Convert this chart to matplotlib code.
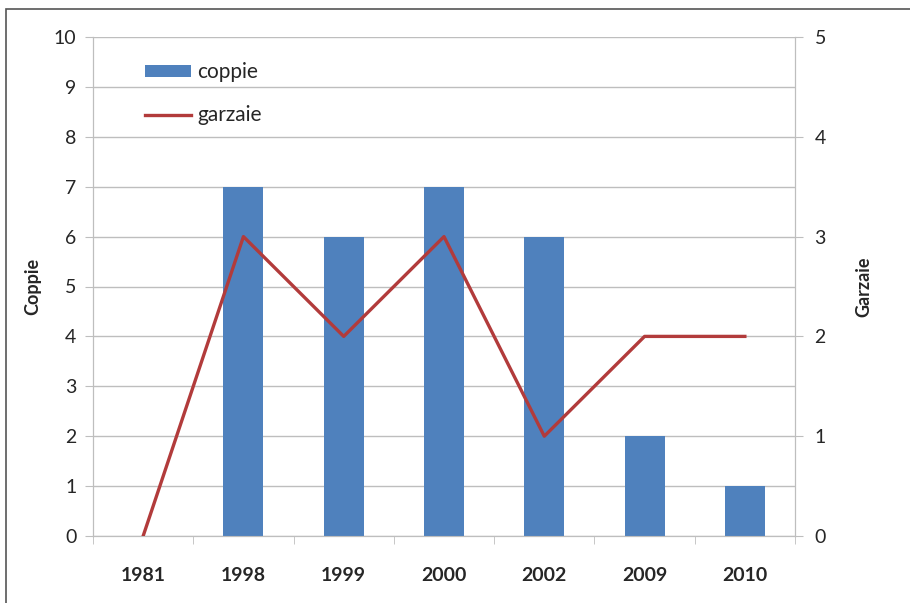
import numpy as np
import matplotlib.pyplot as plt
import matplotlib.patches as patches

plt.rcParams['font.family'] = ['Lato', 'DejaVu Sans']

years = ['1981', '1998', '1999', '2000', '2002', '2009', '2010']
coppie = [0, 7, 6, 7, 6, 2, 1]
garzaie = [0, 3, 2, 3, 1, 2, 2]

bar_color = '#4F81BD'
line_color = '#B23B3B'
grid_color = '#BEBEBE'
text_color = '#262626'

fig = plt.figure(figsize=(9.10, 6.03), dpi=100)
ax = fig.add_axes([93/910, 1 - 536/603, (795 - 93)/910, (536 - 37)/603])

# outer frame of the chart
frame = patches.Rectangle((6/910, -0.05), 1.05, 1 - 9/603 + 0.05,
                          transform=fig.transFigure, fill=False,
                          edgecolor='#555555', linewidth=1.2, clip_on=False)
fig.add_artist(frame)

x = np.arange(len(years))
ax.bar(x, coppie, width=0.4, color=bar_color, zorder=3, label='coppie')
ax.set_xlim(-0.5, len(years) - 0.5)
ax.set_ylim(0, 10)
ax.set_yticks(range(0, 11))
ax.yaxis.grid(True, color=grid_color, linewidth=1.0, zorder=0)
ax.set_axisbelow(True)

ax.set_xticks(x)
ax.set_xticklabels(years, fontsize=14, fontweight='bold', color=text_color)
ax.set_xticks(np.arange(-0.5, len(years)), minor=True)
ax.tick_params(axis='x', which='major', length=0, pad=22)
ax.tick_params(axis='x', which='minor', length=6, color=grid_color)
ax.tick_params(axis='y', length=6, color=grid_color, labelsize=14,
               labelcolor=text_color, pad=6)

for s in ['left', 'bottom', 'right']:
    ax.spines[s].set_color(grid_color)
ax.spines['top'].set_visible(False)
ax.set_ylabel('Coppie', fontsize=13, fontweight='bold', color=text_color)
ax.yaxis.set_label_coords(-(93 - 41)/702, 0.5)

ax2 = ax.twinx()
ax2.plot(x, garzaie, color=line_color, linewidth=2.4, label='garzaie',
         zorder=4)
ax2.set_ylim(0, 5)
ax2.set_yticks(range(0, 6))
ax2.tick_params(axis='y', length=6, color=grid_color, labelsize=14,
                labelcolor=text_color, pad=8)
for s in ['left', 'bottom', 'right']:
    ax2.spines[s].set_color(grid_color)
ax2.spines['top'].set_visible(False)
ax2.set_ylabel('Garzaie', fontsize=13, fontweight='bold', color=text_color)
ax2.yaxis.set_label_coords((855 - 93)/702, 0.5)

h1, l1 = ax.get_legend_handles_labels()
h2, l2 = ax2.get_legend_handles_labels()
leg = ax2.legend(h1 + h2, l1 + l2, loc='upper left',
                 bbox_to_anchor=(0.074, 0.949), frameon=False, fontsize=15,
                 borderaxespad=0, borderpad=0,
                 handlelength=2.2, handleheight=0.5, labelspacing=1.1,
                 handletextpad=0.3)
for t in leg.get_texts():
    t.set_color(text_color)

fig.savefig('out.png', dpi=100)
